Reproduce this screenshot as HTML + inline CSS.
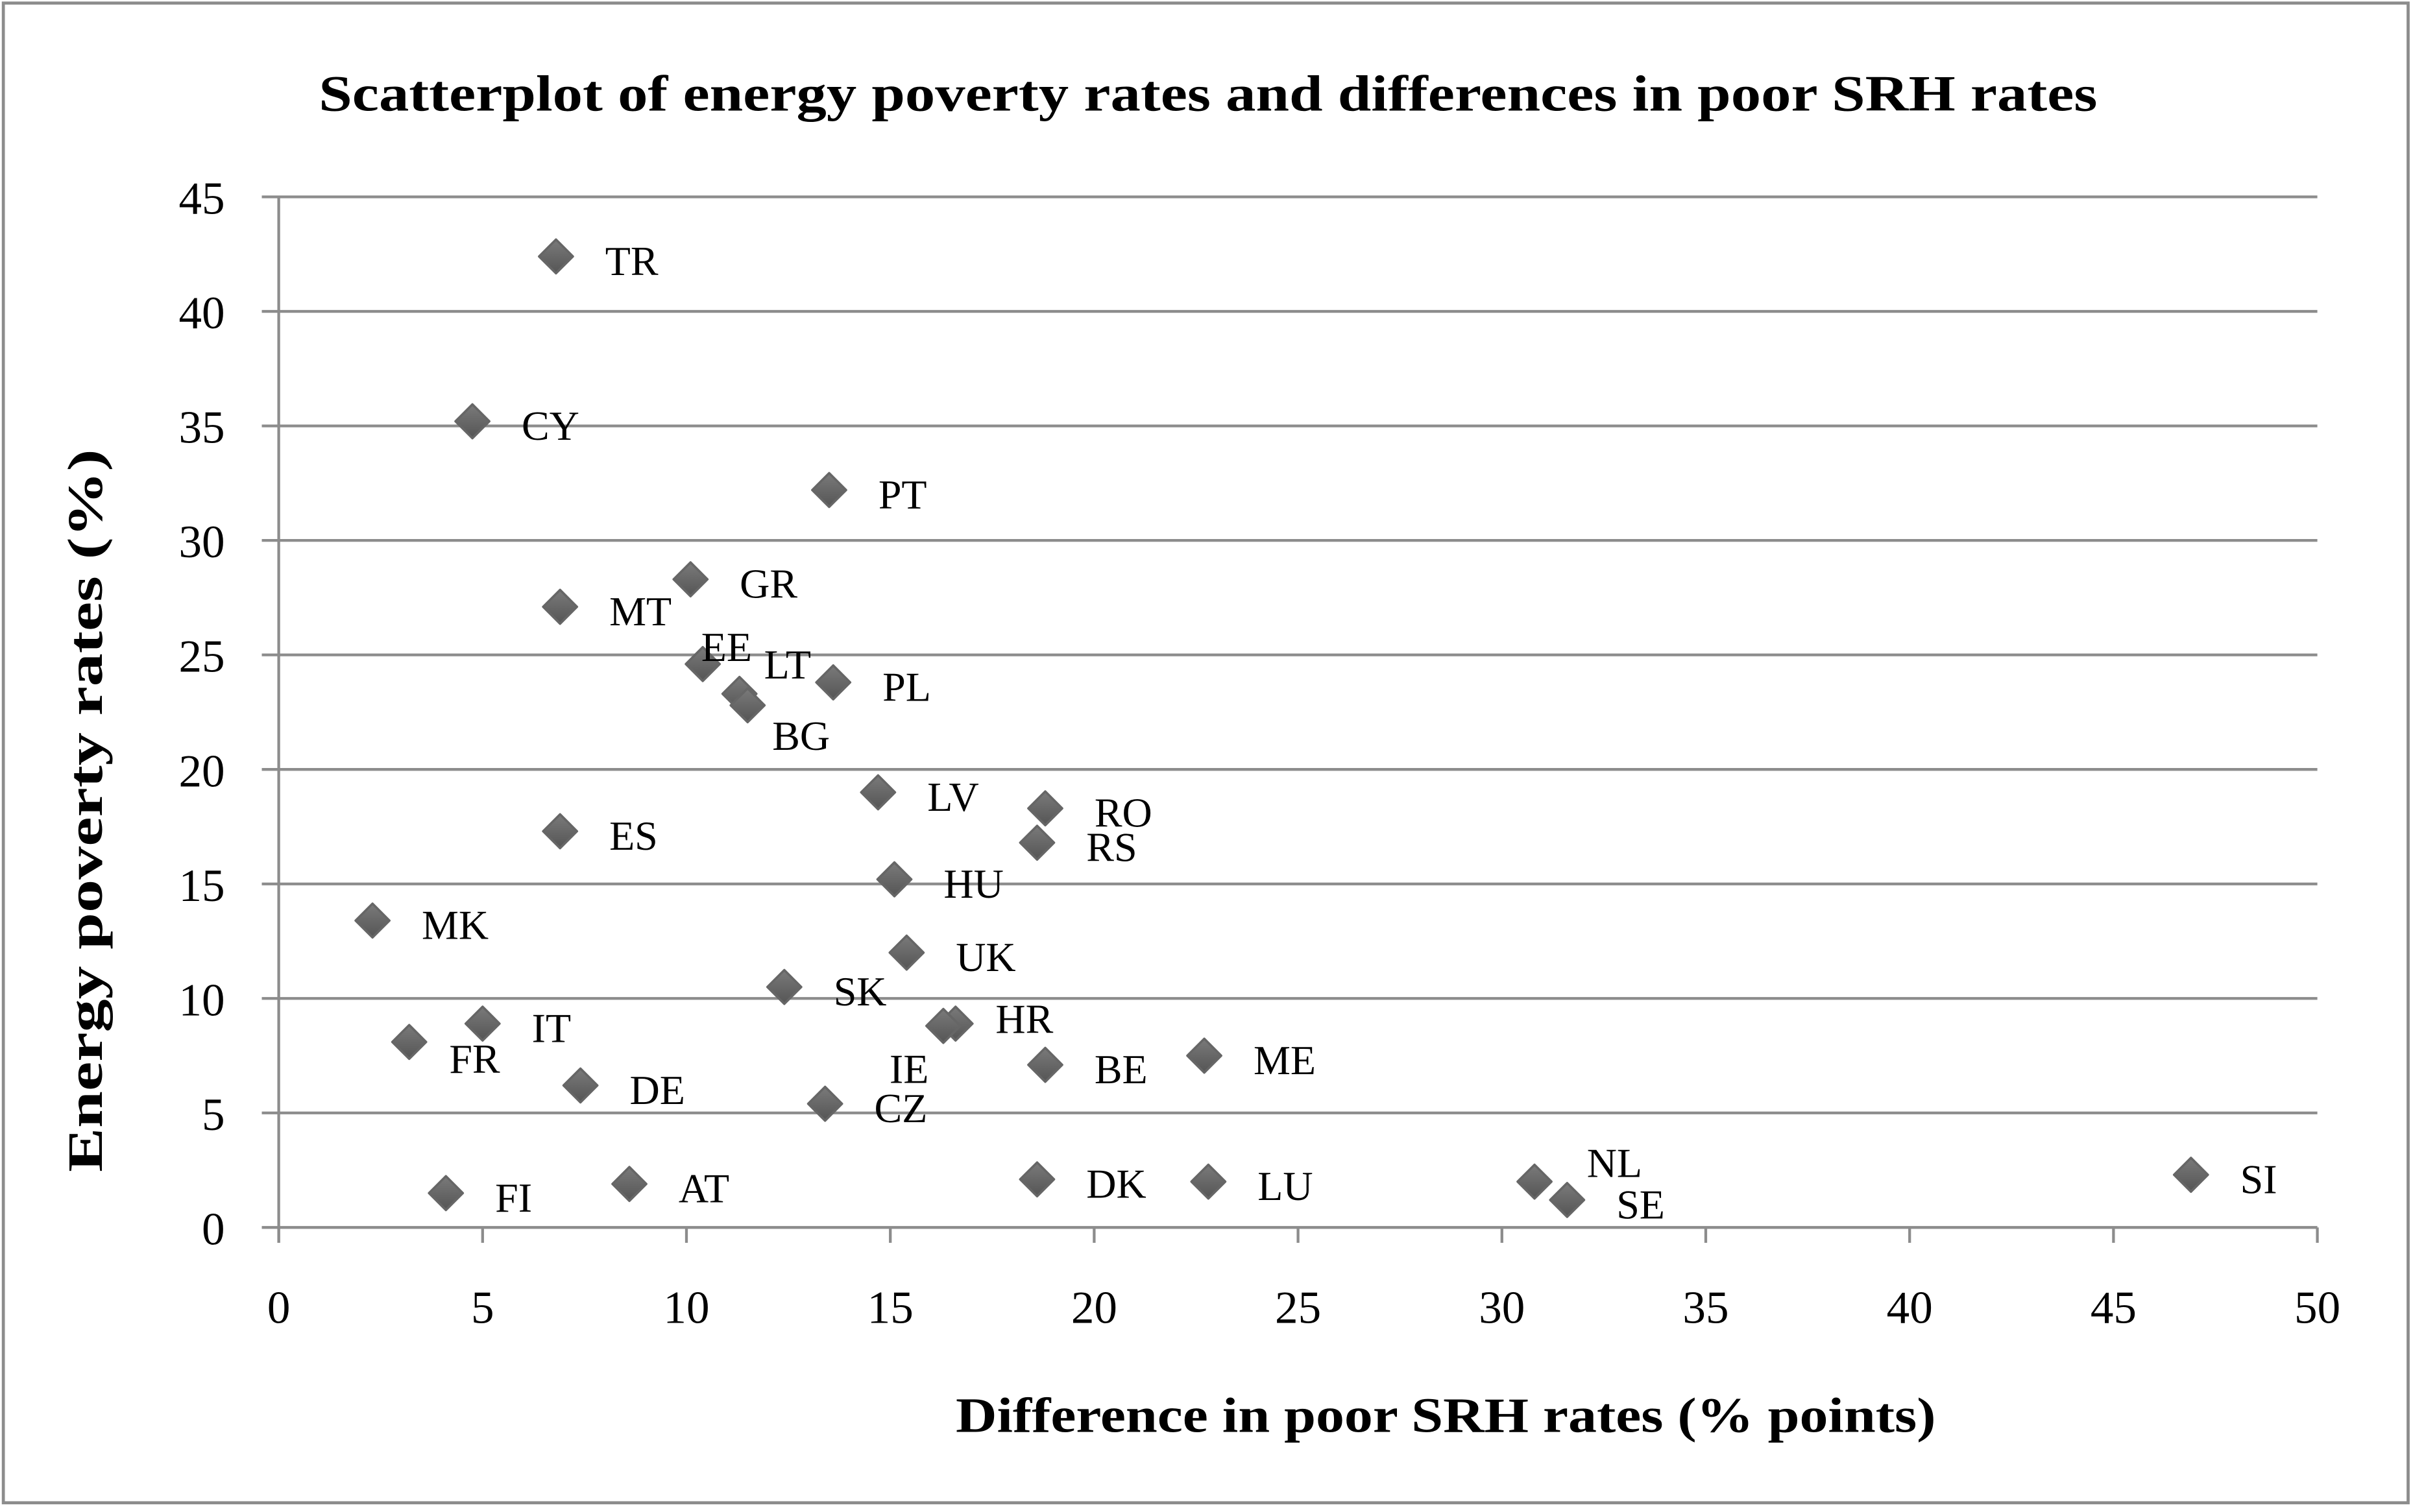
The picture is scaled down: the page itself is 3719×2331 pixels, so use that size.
<!DOCTYPE html>
<html><head><meta charset="utf-8"><style>
html,body{margin:0;padding:0;background:#fff}
svg{display:block}
text{font-family:"Liberation Serif",serif;fill:#000}
</style></head><body>
<svg id="chart" width="3719" height="2331" viewBox="0 0 1568 983" xmlns="http://www.w3.org/2000/svg">
<defs><linearGradient id="dg" x1="0" y1="0" x2="0" y2="1"><stop offset="0" stop-color="#7a7a7a"/><stop offset="1" stop-color="#555"/></linearGradient></defs>
<rect x="2" y="2" width="1563" height="975" fill="#fff" stroke="#8c8c8c" stroke-width="2"/>
<text x="207" y="72" font-size="33" font-weight="bold" textLength="1156" lengthAdjust="spacingAndGlyphs">Scatterplot of energy poverty rates and differences in poor SRH rates</text>
<g id="grid"></g><g id="axes"></g><g id="marks"></g>
<text x="621" y="931" font-size="32" font-weight="bold" textLength="637" lengthAdjust="spacingAndGlyphs">Difference in poor SRH rates (% points)</text>
<text transform="translate(66,527) rotate(-90)" font-size="32" font-weight="bold" text-anchor="middle" textLength="470" lengthAdjust="spacingAndGlyphs">Energy poverty rates (%)</text>
</svg>
<script>
const countries=["TR","CY","PT","GR","MT","EE","LT","BG","PL","LV","RO","RS","ES","HU","MK","UK","SK","HR","IE","IT","FR","BE","ME","DE","CZ","FI","AT","DK","LU","NL","SE","SI"];
const srhDiff=[6.8,4.75,13.5,10.1,6.9,10.4,11.3,11.5,13.6,14.7,18.8,18.6,6.9,15.1,2.3,15.4,12.4,16.6,16.3,5.0,3.2,18.8,22.7,7.4,13.4,4.1,8.6,18.6,22.8,30.8,31.6,46.9];
const povRate=[42.4,35.2,32.2,28.3,27.1,24.6,23.3,22.8,23.8,19.0,18.3,16.8,17.3,15.2,13.4,12.0,10.5,8.9,8.8,8.9,8.1,7.1,7.5,6.2,5.4,1.5,1.9,2.1,2.0,2.0,1.2,2.3];
const xTicks=[0,5,10,15,20,25,30,35,40,45,50];
const yTicks=[0,5,10,15,20,25,30,35,40,45];
const labelOffset={EE:[-1,-12],LT:[16,-20],BG:[16,19],HR:[26,-4],IE:[-35,27],FR:[26,10],NL:[34,-13]};
const X0=181,X1=1506,Y0=798,Y1=128;
const xs=v=>X0+(v-0)/50*(X1-X0);
const ys=v=>Y0-(v-0)/45*(Y0-Y1);
const NS="http://www.w3.org/2000/svg";
function mk(tag,attrs,parent){const e=document.createElementNS(NS,tag);for(const k in attrs)e.setAttribute(k,attrs[k]);parent.appendChild(e);return e;}
const grid=document.getElementById('grid'),axes=document.getElementById('axes'),marks=document.getElementById('marks');
yTicks.forEach(t=>{
  const l=mk('line',{x1:170,x2:X1,y1:ys(t),y2:ys(t),stroke:'#8c8c8c','stroke-width':1.8},grid);
  
  
  const tx=mk('text',{x:146,y:ys(t)+11,'font-size':30,'text-anchor':'end'},axes);
  tx.textContent=t;
  
  
});
const ya=mk('line',{x1:X0,x2:X0,y1:Y1,y2:Y0+10,stroke:'#8c8c8c','stroke-width':1.8},axes);


xTicks.forEach(t=>{
  const l=mk('line',{x1:xs(t),x2:xs(t),y1:Y0,y2:Y0+10,stroke:'#8c8c8c','stroke-width':1.8},axes);
  
  
  const tx=mk('text',{x:xs(t),y:860,'font-size':30,'text-anchor':'middle'},axes);
  tx.textContent=t;
  
  
});
countries.forEach((c,i)=>{
  const cx=xs(srhDiff[i]),cy=ys(povRate[i]),r=11;
  const p=mk('polygon',{points:`${cx},${cy-r} ${cx+r},${cy} ${cx},${cy+r} ${cx-r},${cy}`,fill:'url(#dg)',stroke:'#666','stroke-width':1.5,'stroke-linejoin':'round'},marks);
  
  
  const o=labelOffset[c]||[32,2];
  const t=mk('text',{x:cx+o[0],y:cy+o[1]+10,'font-size':27},marks);
  t.textContent=c;
  
  
});
</script>
</body></html>
